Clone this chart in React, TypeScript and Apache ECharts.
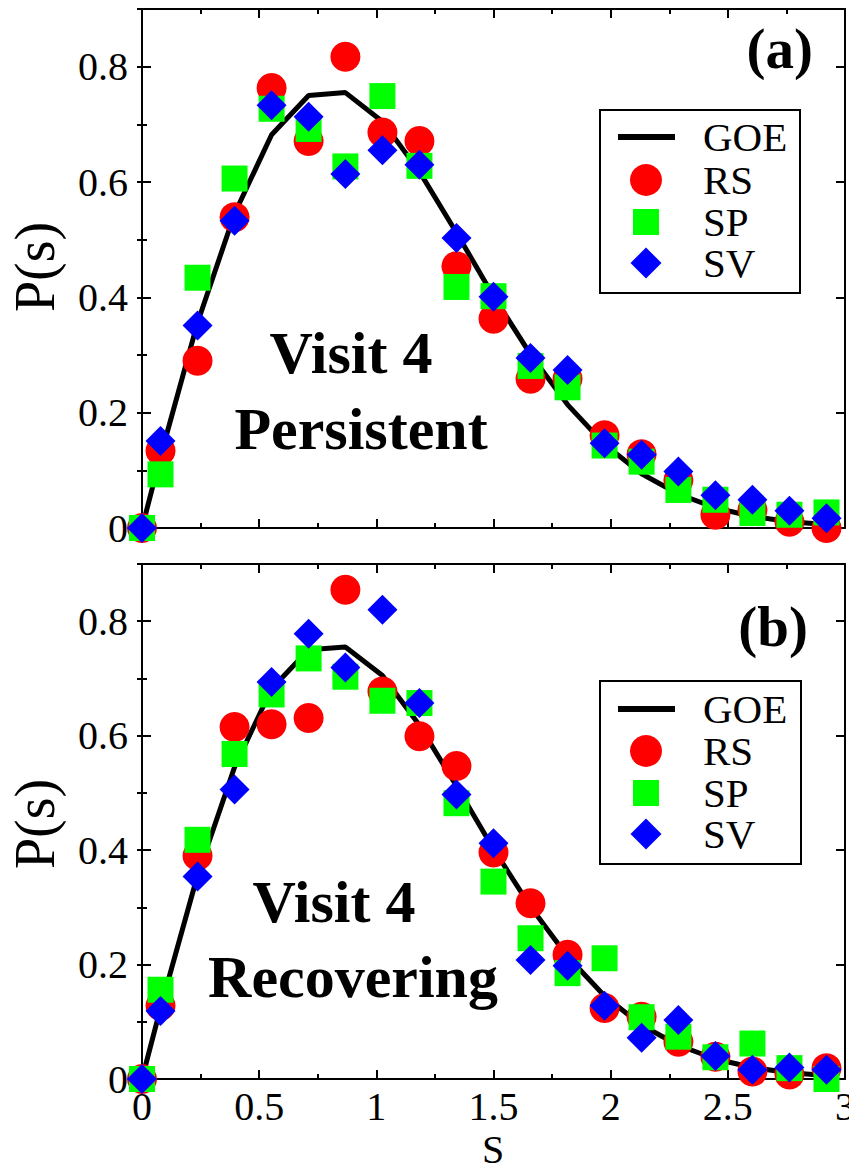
import React, { useEffect, useRef } from 'react';
import * as echarts from 'echarts';

// s values (bin centres) shared by all series
const sValues = [0, 0.079, 0.237, 0.395, 0.553, 0.711, 0.868, 1.026, 1.184, 1.342, 1.5, 1.658, 1.816, 1.974, 2.132, 2.289, 2.447, 2.605, 2.763, 2.921];
// GOE reference curve
const goeValues = [0, 0.124, 0.356, 0.545, 0.682, 0.75, 0.755, 0.705, 0.618, 0.512, 0.402, 0.301, 0.214, 0.145, 0.094, 0.059, 0.035, 0.02, 0.011, 0.006];
// panel (a) Visit 4 Persistent
const rsA = [0, 0.134, 0.29, 0.539, 0.763, 0.671, 0.817, 0.686, 0.671, 0.454, 0.363, 0.259, 0.259, 0.161, 0.128, 0.083, 0.023, 0.031, 0.011, 0.0];
const spA = [0, 0.093, 0.434, 0.606, 0.727, 0.692, 0.627, 0.749, 0.628, 0.418, 0.402, 0.281, 0.244, 0.143, 0.115, 0.066, 0.049, 0.026, 0.023, 0.027];
const svA = [0, 0.151, 0.351, 0.533, 0.733, 0.713, 0.614, 0.655, 0.63, 0.503, 0.401, 0.295, 0.274, 0.147, 0.127, 0.098, 0.057, 0.049, 0.03, 0.017];
// panel (b) Visit 4 Recovering
const rsB = [0, 0.128, 0.39, 0.615, 0.62, 0.631, 0.855, 0.677, 0.599, 0.547, 0.396, 0.307, 0.217, 0.124, 0.109, 0.065, 0.039, 0.013, 0.008, 0.019];
const spB = [0, 0.156, 0.418, 0.568, 0.672, 0.735, 0.703, 0.661, 0.657, 0.482, 0.345, 0.246, 0.185, 0.211, 0.108, 0.074, 0.038, 0.062, 0.019, 0.0];
const svB = [0, 0.119, 0.354, 0.506, 0.694, 0.778, 0.719, 0.82, 0.657, 0.497, 0.412, 0.208, 0.198, 0.128, 0.072, 0.103, 0.04, 0.016, 0.02, 0.016];

const xTickLabels = ['0', '0.5', '1', '1.5', '2', '2.5', '3'];
const yTickLabels = ['0', '0.2', '0.4', '0.6', '0.8'];
const legendNames = ['GOE', 'RS', 'SP', 'SV'];

const FONT = 'Liberation Serif';
const RED = '#ff0000';
const GREEN = '#00ff00';
const BLUE = '#0000ff';

function pairs(vals: number[]) {
  return sValues.map((s, i) => [s, vals[i]]);
}

export default function App() {
  const ref = useRef<HTMLDivElement>(null);
  useEffect(() => {
    const chart = echarts.init(ref.current!, null, { renderer: 'svg' });

    const lineCommon = { lineStyle: { color: '#000', width: 2 } };
    const xAxisBase = (gridIndex: number, position: string, showLabel: boolean) => ({
      type: 'value',
      gridIndex,
      position,
      min: 0,
      max: 3,
      interval: 0.5,
      axisLine: { show: true, onZero: false, ...lineCommon },
      axisTick: { show: true, inside: true, length: 9, ...lineCommon },
      minorTick: { show: true, splitNumber: 2, length: 5, ...lineCommon },
      splitLine: { show: false },
      axisLabel: {
        show: showLabel,
        margin: 10,
        color: '#000',
        fontFamily: FONT,
        fontSize: 40,
        lineHeight: 34,
        formatter: (v: number) => xTickLabels[Math.round(v * 2)] ?? '',
      },
    });
    const yMajor = (gridIndex: number, position: string, showLabel: boolean) => ({
      type: 'value',
      gridIndex,
      position,
      min: 0,
      max: 0.9,
      interval: 0.2,
      axisLine: { show: true, onZero: false, ...lineCommon },
      axisTick: { show: true, inside: true, length: 9, ...lineCommon },
      splitLine: { show: false },
      axisLabel: {
        show: showLabel,
        margin: 14,
        color: '#000',
        fontFamily: FONT,
        fontSize: 40,
        formatter: (v: number) => {
          const i = Math.round(v / 0.2);
          return Math.abs(v - i * 0.2) < 1e-6 ? yTickLabels[i] ?? '' : '';
        },
      },
    });
    const yMinor = (gridIndex: number, position: string) => ({
      type: 'value',
      gridIndex,
      position,
      min: 0,
      max: 0.9,
      interval: 0.1,
      axisLine: { show: false },
      axisTick: { show: true, inside: true, length: 5, ...lineCommon },
      splitLine: { show: false },
      axisLabel: { show: false },
    });

    const panelSeries = (xi: number, yi: number, rs: number[], sp: number[], sv: number[]) => [
      {
        name: 'GOE', type: 'line', xAxisIndex: xi, yAxisIndex: yi, data: pairs(goeValues),
        symbol: 'none', clip: false, lineStyle: { color: '#000', width: 5 }, z: 2,
      },
      {
        name: 'RS', type: 'scatter', xAxisIndex: xi, yAxisIndex: yi, data: pairs(rs),
        symbol: 'circle', symbolSize: 30, clip: false, itemStyle: { color: RED, opacity: 1 }, z: 3,
      },
      {
        name: 'SP', type: 'scatter', xAxisIndex: xi, yAxisIndex: yi, data: pairs(sp),
        symbol: 'rect', symbolSize: 26, clip: false, itemStyle: { color: GREEN, opacity: 1 }, z: 4,
      },
      {
        name: 'SV', type: 'scatter', xAxisIndex: xi, yAxisIndex: yi, data: pairs(sv),
        symbol: 'diamond', symbolSize: 30, clip: false, itemStyle: { color: BLUE, opacity: 1 }, z: 5,
      },
    ];

    const legendBox = (bx: number, by: number, bw: number, bh: number, ys: number[]) => {
      const mx = 646;
      const tx = 703;
      return [
        { type: 'rect', shape: { x: bx, y: by, width: bw, height: bh }, style: { fill: '#fff', stroke: '#000', lineWidth: 2 }, z: 10 },
        { type: 'line', shape: { x1: 618, y1: ys[0], x2: 675, y2: ys[0] }, style: { stroke: '#000', lineWidth: 6 }, z: 11 },
        { type: 'circle', shape: { cx: mx, cy: ys[1], r: 16 }, style: { fill: RED }, z: 11 },
        { type: 'rect', shape: { x: mx - 13, y: ys[2] - 13, width: 26, height: 26 }, style: { fill: GREEN }, z: 11 },
        { type: 'polygon', shape: { points: [[mx, ys[3] - 15.5], [mx + 15.5, ys[3]], [mx, ys[3] + 15.5], [mx - 15.5, ys[3]]] }, style: { fill: BLUE }, z: 11 },
        ...legendNames.map((n, i) => ({
          type: 'text', x: tx, y: ys[i], z: 11,
          style: {
            text: n, fill: '#000', fontFamily: FONT, fontSize: 41, lineHeight: 30,
            textAlign: 'left', textVerticalAlign: 'middle',
          },
        })),
      ];
    };

    const txt = (text: string, x: number, y: number, size: number, bold: boolean, align = 'center', rotation = 0) => ({
      type: 'text', x, y, rotation, z: 12,
      style: {
        text, fill: '#000', fontFamily: FONT, fontSize: size, fontWeight: bold ? 'bold' : 'normal',
        lineHeight: Math.round(size * 0.75),
        textAlign: align, textVerticalAlign: 'middle',
      },
    });

    const option = {
      animation: false,
      backgroundColor: '#fff',
      grid: [
        { left: 142, top: 9, width: 703, height: 519, outerBoundsMode: 'none', containLabel: false },
        { left: 142, top: 564, width: 703, height: 515, outerBoundsMode: 'none', containLabel: false },
      ],
      xAxis: [
        xAxisBase(0, 'bottom', false),
        xAxisBase(0, 'top', false),
        xAxisBase(1, 'bottom', true),
        xAxisBase(1, 'top', false),
      ],
      yAxis: [
        yMajor(0, 'left', true),
        yMinor(0, 'left'),
        yMajor(0, 'right', false),
        yMinor(0, 'right'),
        yMajor(1, 'left', true),
        yMinor(1, 'left'),
        yMajor(1, 'right', false),
        yMinor(1, 'right'),
      ],
      series: [
        ...panelSeries(0, 0, rsA, spA, svA),
        ...panelSeries(2, 4, rsB, spB, svB),
      ],
      graphic: [
        ...legendBox(600, 110, 200, 183, [137, 180, 222, 263]),
        ...legendBox(600, 681, 201, 183, [709, 751, 793, 834]),
        txt('(a)', 813, 48, 57, true, 'right'),
        txt('(b)', 808, 626, 57, true, 'right'),
        txt('Visit 4', 351, 353, 60, true),
        txt('Persistent', 361, 429, 60, true),
        txt('Visit 4', 334, 902, 60, true),
        txt('Recovering', 353, 977, 60, true),
        txt('P(s)', 35, 267, 56, false, 'center', Math.PI / 2),
        txt('P(s)', 35, 824, 56, false, 'center', Math.PI / 2),
        txt('S', 493, 1149, 40, false),
      ],
    };

    chart.setOption(option as any);
    return () => chart.dispose();
  }, []);
  return (
    <div
      ref={ref}
      style={{ position: 'fixed', left: 0, top: 0, width: 849, height: 1169, background: '#fff' }}
    />
  );
}
